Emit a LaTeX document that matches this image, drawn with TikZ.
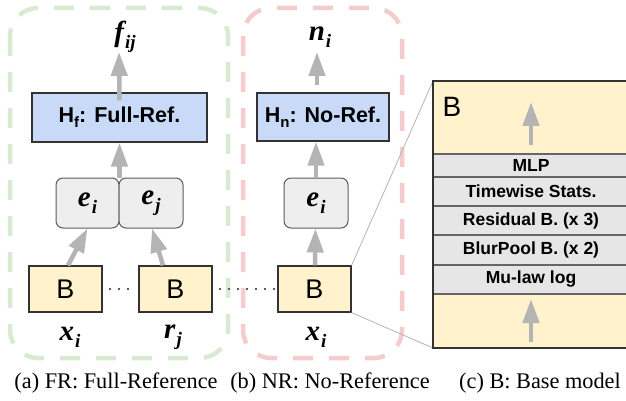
\documentclass[tikz,border=0pt]{standalone}
\usepackage{fontspec}
\setmainfont{Liberation Serif}
\setsansfont{Liberation Sans}
\usetikzlibrary{arrows.meta}
\definecolor{grnd}{RGB}{217,234,211}
\definecolor{redd}{RGB}{244,204,204}
\definecolor{bluef}{RGB}{201,218,248}
\definecolor{yelf}{RGB}{255,242,204}
\definecolor{grayf}{RGB}{238,238,238}
\definecolor{layf}{RGB}{230,230,230}
\definecolor{arrc}{RGB}{180,180,180}
\definecolor{bord}{RGB}{51,51,51}
\newcommand{\varlab}[2]{{\fontsize{29}{29}\selectfont\bfseries\itshape #1}\kern1pt\raisebox{-7pt}{\fontsize{19}{19}\selectfont\bfseries\itshape #2}}
\newcommand{\hsub}[1]{\raisebox{-5pt}{\fontsize{15}{15}\selectfont #1}}
\begin{document}
\begin{tikzpicture}[x=1pt,y=-1pt,
  region/.style={line width=4.5pt,dash pattern=on 20pt off 16pt,rounded corners=28pt},
  headbox/.style={draw=bord,line width=1.2pt,fill=bluef,minimum height=49pt,inner sep=0pt,font=\sffamily\bfseries\fontsize{21.5}{21.5}\selectfont},
  embbox/.style={draw=bord!80,line width=1pt,fill=grayf,rounded corners=7pt,minimum width=64pt,minimum height=50pt,inner sep=0pt},
  basebox/.style={draw=bord,line width=1.2pt,fill=yelf,minimum width=73pt,minimum height=46pt,inner sep=0pt,font=\sffamily\fontsize{27}{27}\selectfont},
  layer/.style={draw=bord!75,line width=1.2pt,fill=layf},
  laytext/.style={font=\sffamily\bfseries\fontsize{17.5}{17.5}\selectfont,inner sep=0pt},
  arr/.style={draw=arrc,line width=4.5pt,-{Triangle[width=16pt,length=24pt]}},
  zoomline/.style={draw=arrc,line width=0.8pt},
  dots/.style={draw=bord!80,line width=2pt,dash pattern=on 2pt off 7pt},
  captext/.style={font=\fontsize{22.3}{22.3}\selectfont,inner sep=0pt}]
\useasboundingbox (0,0) rectangle (626,401);
% regions
\draw[region,draw=grnd] (10,8) rectangle (228,358);
\draw[region,draw=redd] (243,8) rectangle (402,358);
% zoom lines
\node[basebox] (b3) at (314.5,289) {B};
\coordinate (bigtl) at (433,81);
\coordinate (bigbl) at (433,348);
\draw[zoomline] (b3.north east) -- (bigtl);
\draw[zoomline] (b3.south east) -- (bigbl);
% big base model box
\fill[yelf] (433,81) rectangle (632,348);
\draw[layer] (433,154) rectangle (632,177);
\draw[layer] (433,177) rectangle (632,206);
\draw[layer] (433,206) rectangle (632,235);
\draw[layer] (433,235) rectangle (632,265);
\draw[layer] (433,265) rectangle (632,294);
\draw[bord,line width=1.5pt] (632,81) -- (433,81) -- (433,348) -- (632,348);
\node[laytext] (mlp) at (531,165.5) {MLP};
\node[laytext] (tws) at (531,191.5) {Timewise Stats.};
\node[laytext] (res) at (531,220.5) {Residual B. (x 3)};
\node[laytext] (blur) at (531,250) {BlurPool B. (x 2)};
\node[laytext] (mu) at (531,279.5) {Mu-law log};
\node[font=\sffamily\fontsize{28}{28}\selectfont,inner sep=0pt] (bigB) at (452,106.5) {B};
\coordinate (ta1) at (531,145);
\coordinate (ta2) at (531,102);
\coordinate (ba1) at (531,342);
\coordinate (ba2) at (531,299);
\draw[arr] (ta1) -- (ta2);
\draw[arr] (ba1) -- (ba2);
% FR column
\node[headbox,minimum width=175pt] (hf) at (119.5,117.5) {H\hsub{f}: Full-Ref.};
\node[embbox,minimum width=63pt] (ei) at (87.5,203) {\varlab{e}{i}};
\node[embbox] (ej) at (151,203) {\varlab{e}{j}};
\node[basebox] (b1) at (65.5,289) {B};
\node[basebox] (b2) at (175.5,289) {B};
\node[inner sep=0pt] (fij) at (125,37) {\varlab{f}{ij}};
\node[inner sep=0pt] (xi1) at (70,337) {\varlab{x}{i}};
\node[inner sep=0pt] (rj) at (173,337) {\varlab{r}{j}};
\draw[arr] (ei.north east) -- (hf.south);
\draw[arr] ([yshift=-8pt]hf.north) -- (119,52);
\draw[arr] ([xshift=2.5pt]b1.north) -- (ei.south);
\draw[arr] ([xshift=-12.5pt]b2.north) -- ([xshift=1pt]ej.south);
\draw[dots] ([xshift=6pt]b1.east) -- ([xshift=-5pt]b2.west);
\draw[dots] ([xshift=6pt]b2.east) -- (b3.west);
% NR column
\node[headbox,minimum width=132pt,minimum height=48pt] (hn) at (323,117) {H\hsub{n}: No-Ref.};
\node[embbox] (ein) at (316,203) {\varlab{e}{i}};
\node[inner sep=0pt] (ni) at (320,37) {\varlab{n}{i}};
\node[inner sep=0pt] (xi2) at (316,337) {\varlab{x}{i}};
\draw[arr] ([xshift=0.5pt]b3.north) -- ([xshift=-0.5pt]ein.south);
\draw[arr] (ein.north) -- (ein.north |- hn.south);
\draw[arr] (317,85) -- (317,52);
% captions
\node[captext] (ca) at (116,383) {(a) FR: Full-Reference};
\node[captext] (cb) at (330,383) {(b) NR: No-Reference};
\node[captext] (cc) at (540,383) {(c) B: Base model};
\end{tikzpicture}
\end{document}
